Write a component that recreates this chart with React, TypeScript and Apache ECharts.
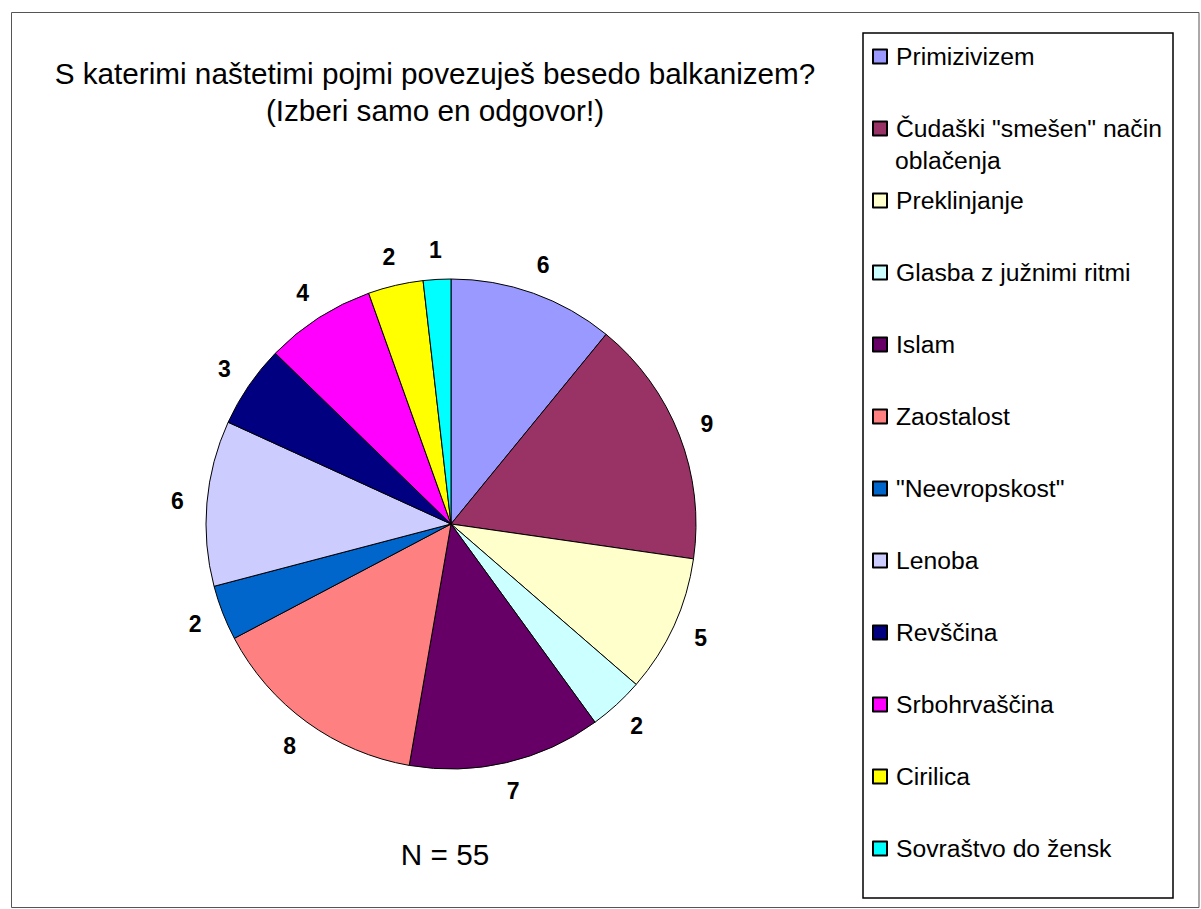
import React, { useEffect, useRef } from "react";
import * as echarts from "echarts";

const categories = [
  "Primizivizem",
  "Čudaški \"smešen\" način oblačenja",
  "Preklinjanje",
  "Glasba z južnimi ritmi",
  "Islam",
  "Zaostalost",
  "\"Neevropskost\"",
  "Lenoba",
  "Revščina",
  "Srbohrvaščina",
  "Cirilica",
  "Sovraštvo do žensk",
];
const values = [6, 9, 5, 2, 7, 8, 2, 6, 3, 4, 2, 1];
const colors = [
  "#9999FF",
  "#993366",
  "#FFFFCC",
  "#CCFFFF",
  "#660066",
  "#FF8080",
  "#0066CC",
  "#CCCCFF",
  "#000080",
  "#FF00FF",
  "#FFFF00",
  "#00FFFF",
];
const titleLines = [
  "S katerimi naštetimi pojmi povezuješ besedo balkanizem?",
  "(Izberi samo en odgovor!)",
];
const footnote = "N = 55";
const wrappedFirst = "Čudaški \"smešen\" način";
const wrappedSecond = "oblačenja";

const FONT = "'Liberation Sans', Arial, sans-serif";

export default function App() {
  const ref = useRef<HTMLDivElement>(null);
  useEffect(() => {
    if (!ref.current) return;
    const chart = echarts.init(ref.current, null, { renderer: "svg" });
    const data = categories.map((name, i) => ({
      name,
      value: values[i],
      itemStyle: { color: colors[i] },
    }));
    chart.setOption({
      animation: false,
      backgroundColor: "#fff",
      title: [
        {
          text: titleLines.join("\n"),
          left: 435,
          top: 55,
          textAlign: "center",
          padding: 0,
          textStyle: {
            fontFamily: FONT,
            fontSize: 29.7,
            lineHeight: 37,
            fontWeight: "normal",
            color: "#000",
          },
        },
        {
          text: footnote,
          left: 445,
          top: 838,
          textAlign: "center",
          padding: 0,
          textStyle: {
            fontFamily: FONT,
            fontSize: 29.7,
            lineHeight: 32,
            fontWeight: "normal",
            color: "#000",
          },
        },
      ],
      legend: {
        orient: "vertical",
        left: 872,
        top: 44,
        padding: 0,
        itemWidth: 14,
        itemHeight: 14,
        itemGap: 47,
        icon: "rect",
        selectedMode: false,
        data: categories,
        formatter: (name: string) => (name === categories[1] ? wrappedFirst : name),
        textStyle: {
          fontFamily: FONT,
          fontSize: 24.7,
          lineHeight: 24,
          color: "#000",
          padding: [0, 0, 0, 4],
        },
      },
      graphic: [
        {
          type: "rect",
          shape: { x: 11.5, y: 12.5, width: 1187.5, height: 895 },
          style: { fill: "none", stroke: "#555", lineWidth: 1 },
          silent: true,
          z: -1,
        },
        {
          type: "rect",
          shape: { x: 863, y: 33, width: 310, height: 865 },
          style: { fill: "none", stroke: "#000", lineWidth: 1.5 },
          silent: true,
        },
        {
          type: "text",
          x: 895,
          y: 160,
          style: {
            text: wrappedSecond,
            fontFamily: FONT,
            fontSize: 24.7,
            fill: "#000",
            verticalAlign: "middle",
            align: "left",
          },
          silent: true,
        },
      ],
      series: [
        {
          type: "pie",
          center: [451, 524],
          radius: 245,
          startAngle: 90,
          clockwise: true,
          avoidLabelOverlap: false,
          label: { show: false },
          labelLine: { show: false },
          emphasis: { disabled: true },
          itemStyle: { borderColor: "#000", borderWidth: 1 },
          data,
        },
        {
          type: "pie",
          center: [451, 524],
          radius: [245, 298],
          startAngle: 90,
          clockwise: true,
          silent: true,
          avoidLabelOverlap: false,
          emphasis: { disabled: true },
          itemStyle: { color: "rgba(0,0,0,0)", borderWidth: 0 },
          label: {
            show: true,
            position: "inside",
            formatter: "{c}",
            fontFamily: FONT,
            fontSize: 23,
            fontWeight: "bold",
            color: "#000",
          },
          labelLine: { show: false },
          data: categories.map((name, i) => ({ name, value: values[i] })),
        },
      ],
    });
    return () => chart.dispose();
  }, []);
  return (
    <div
      ref={ref}
      style={{ position: "absolute", left: 0, top: 0, width: 1201, height: 909 }}
    />
  );
}
